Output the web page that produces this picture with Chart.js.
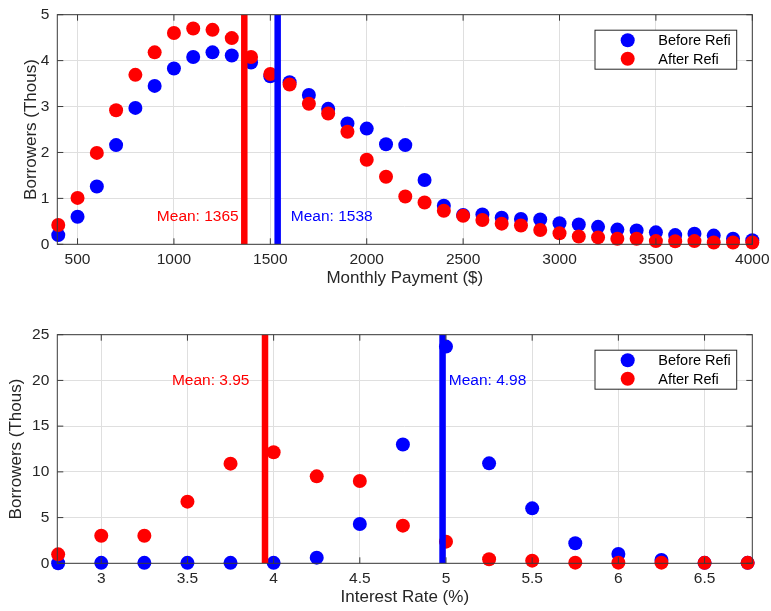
<!DOCTYPE html>
<html>
<head>
<meta charset="utf-8">
<script src="https://cdn.jsdelivr.net/npm/chart.js@4"></script>
<style>
  body { margin: 0; background: #fff; }
  #wrap { position: relative; width: 771px; height: 611px; }
  canvas { position: absolute; left: 0; }
</style>
</head>
<body>
<div id="wrap">
  <canvas id="graficoPago" width="771" height="305" style="top:0"></canvas>
  <canvas id="graficoTasa" width="771" height="306" style="top:305px"></canvas>
</div>
<script>
// monthly payment histogram (thousands of borrowers)
const payments = [400, 500, 600, 700, 800, 900, 1000, 1100, 1200, 1300,
    1400, 1500, 1600, 1700, 1800, 1900, 2000, 2100, 2200, 2300,
    2400, 2500, 2600, 2700, 2800, 2900, 3000, 3100, 3200, 3300,
    3400, 3500, 3600, 3700, 3800, 3900, 4000];
const payBefore = [0.20, 0.60, 1.26, 2.16, 2.97, 3.45, 3.83, 4.08, 4.18, 4.11,
    3.96, 3.66, 3.53, 3.25, 2.95, 2.63, 2.52, 2.18, 2.16, 1.40,
    0.84, 0.64, 0.65, 0.58, 0.55, 0.54, 0.46, 0.43, 0.38, 0.32,
    0.30, 0.26, 0.20, 0.23, 0.19, 0.12, 0.09];
const payAfter = [0.42, 1.01, 1.99, 2.92, 3.69, 4.18, 4.60, 4.70, 4.67, 4.49,
    4.08, 3.71, 3.48, 3.06, 2.85, 2.45, 1.84, 1.47, 1.04, 0.91,
    0.73, 0.62, 0.53, 0.45, 0.41, 0.31, 0.24, 0.17, 0.15, 0.12,
    0.12, 0.07, 0.065, 0.07, 0.04, 0.04, 0.04];
const payMeanBefore = 1538;
const payMeanAfter = 1365;
const payTicksX = [500, 1000, 1500, 2000, 2500, 3000, 3500, 4000];
const payTicksY = [0, 1, 2, 3, 4, 5];

// interest rate histogram
const rates = [2.75, 3, 3.25, 3.5, 3.75, 4, 4.25, 4.5, 4.75, 5, 5.25, 5.5, 5.75, 6, 6.25, 6.5, 6.75];
const rateBefore = [0, 0.05, 0.05, 0.05, 0.05, 0.05, 0.62, 4.30, 13.0, 23.7, 10.93, 6.01, 2.19, 1.02, 0.36, 0.05, 0.05];
const rateAfter = [0.98, 3.02, 3.02, 6.74, 10.9, 12.14, 9.51, 9.0, 4.12, 2.37, 0.44, 0.29, 0.07, 0.07, 0.07, 0.05, 0.05];
const rateMeanBefore = 4.98;
const rateMeanAfter = 3.95;
const rateTicksX = [3, 3.5, 4, 4.5, 5, 5.5, 6, 6.5];
const rateTicksY = [0, 5, 10, 15, 20, 25];

const FONT = '"Liberation Sans", Arial, Helvetica, sans-serif';
const TXT = '#262626';
const BLUE = '#0000ff';
const RED = '#ff0000';

function puntos(xs, ys) {
    return xs.map((x, i) => ({x: x, y: ys[i]}));
}

function lineaMedia(x, ymin, ymax, color) {
    return {
        data: [{x: x, y: ymin}, {x: x, y: ymax}],
        showLine: true, borderColor: color, borderWidth: 6.5,
        pointRadius: 0, order: 0, borderCapStyle: 'butt'
    };
}

// box, inward ticks, legend and the mean labels
const extras = {
    id: 'extras',
    afterDatasetsDraw(chart, args, opts) {
        const ctx = chart.ctx;
        const a = chart.chartArea;
        const sx = chart.scales.x, sy = chart.scales.y;
        ctx.save();
        ctx.strokeStyle = '#3a3a3a';
        ctx.lineWidth = 1;
        ctx.strokeRect(a.left, a.top, a.right - a.left, a.bottom - a.top);
        ctx.beginPath();
        for (const t of sx.ticks) {
            const px = sx.getPixelForValue(t.value);
            ctx.moveTo(px, a.bottom); ctx.lineTo(px, a.bottom - 6);
            ctx.moveTo(px, a.top); ctx.lineTo(px, a.top + 6);
        }
        for (const t of sy.ticks) {
            const py = sy.getPixelForValue(t.value);
            ctx.moveTo(a.left, py); ctx.lineTo(a.left + 6, py);
            ctx.moveTo(a.right, py); ctx.lineTo(a.right - 6, py);
        }
        ctx.stroke();

        // mean labels
        ctx.font = '15.5px ' + FONT;
        ctx.textBaseline = 'middle';
        for (const m of opts.labels) {
            ctx.fillStyle = m.color;
            ctx.textAlign = m.align;
            ctx.fillText(m.text, sx.getPixelForValue(m.x), sy.getPixelForValue(m.y));
        }

        // legend
        const lx = a.right - 157.3, ly = a.top + 15.5;
        ctx.fillStyle = '#fff';
        ctx.fillRect(lx, ly, 141.7, 39);
        ctx.strokeStyle = '#262626';
        ctx.strokeRect(lx, ly, 141.7, 39);
        const items = [['Before Refi', BLUE, 10], ['After Refi', RED, 28.5]];
        ctx.font = '14.5px ' + FONT;
        ctx.textAlign = 'left';
        for (const it of items) {
            ctx.fillStyle = it[1];
            ctx.beginPath();
            ctx.arc(lx + 32.7, ly + it[2], 7, 0, Math.PI * 2);
            ctx.fill();
            ctx.fillStyle = '#000';
            ctx.fillText(it[0], lx + 63.3, ly + it[2] + 0.8);
        }
        ctx.restore();
    }
};

function getConfig(xs, before, after, meanB, meanA, cfg) {
    return {
        type: 'scatter',
        data: {
            datasets: [
                {label: 'Before Refi', data: puntos(xs, before), backgroundColor: BLUE, borderWidth: 0,
                    pointRadius: 7, order: 2, clip: false},
                {label: 'After Refi', data: puntos(xs, after), backgroundColor: RED, borderWidth: 0,
                    pointRadius: 7, order: 1, clip: false},
                lineaMedia(meanA, cfg.ymin, cfg.ymax, RED),
                lineaMedia(meanB, cfg.ymin, cfg.ymax, BLUE)
            ]
        },
        options: {
            responsive: false,
            animation: false,
            events: [],
            layout: {padding: {top: cfg.padTop, right: 18.7, left: 0, bottom: 0}},
            plugins: {
                legend: {display: false},
                tooltip: {enabled: false},
                extras: {labels: cfg.labels}
            },
            scales: {
                x: {
                    type: 'linear', min: cfg.xmin, max: cfg.xmax,
                    afterBuildTicks: s => { s.ticks = cfg.ticksX.map(v => ({value: v})); },
                    afterFit: s => { s.height = cfg.xHeight; s.paddingLeft = 0; s.paddingRight = 0; },
                    grid: {color: '#dfdfdf', drawTicks: false},
                    border: {display: false},
                    ticks: {color: TXT, font: {family: FONT, size: 15.5}, padding: 6.4,
                        callback: v => String(v)},
                    title: {display: true, text: cfg.xTitle, color: TXT,
                        font: {family: FONT, size: 17}, padding: {top: 0, bottom: cfg.titlePad}}
                },
                y: {
                    min: cfg.ymin, max: cfg.ymax,
                    afterBuildTicks: s => { s.ticks = cfg.ticksY.map(v => ({value: v})); },
                    afterFit: s => { s.width = 57.3; s.paddingTop = 0; s.paddingBottom = 0; },
                    grid: {color: '#dfdfdf', drawTicks: false},
                    border: {display: false},
                    ticks: {color: TXT, font: {family: FONT, size: 15.5}, padding: 8},
                    title: {display: true, text: 'Borrowers (Thous)', color: TXT,
                        font: {family: FONT, size: 17}, padding: {top: cfg.yTitlePad, bottom: 0}}
                }
            }
        },
        plugins: [extras]
    };
}

const grafico1 = new Chart(document.getElementById('graficoPago'),
    getConfig(payments, payBefore, payAfter, payMeanBefore, payMeanAfter, {
        xmin: 395, xmax: 4000, ymin: 0, ymax: 5,
        ticksX: payTicksX, ticksY: payTicksY,
        padTop: 14.7, xHeight: 60.7, titlePad: 16.3, yTitlePad: 20.8,
        xTitle: 'Monthly Payment ($)',
        labels: [
            {text: 'Mean: ' + payMeanAfter, x: 1336, y: 0.6, color: RED, align: 'right'},
            {text: 'Mean: ' + payMeanBefore, x: 1606, y: 0.6, color: BLUE, align: 'left'}
        ]
    }));

const grafico2 = new Chart(document.getElementById('graficoTasa'),
    getConfig(rates, rateBefore, rateAfter, rateMeanBefore, rateMeanAfter, {
        xmin: 2.745, xmax: 6.777, ymin: 0, ymax: 25,
        ticksX: rateTicksX, ticksY: rateTicksY,
        padTop: 29.7, xHeight: 47.7, titlePad: 3, yTitlePad: 6.3,
        xTitle: 'Interest Rate (%)',
        labels: [
            {text: 'Mean: ' + rateMeanAfter, x: 3.86, y: 20, color: RED, align: 'right'},
            {text: 'Mean: ' + rateMeanBefore, x: 5.016, y: 20, color: BLUE, align: 'left'}
        ]
    }));
</script>
</body>
</html>
